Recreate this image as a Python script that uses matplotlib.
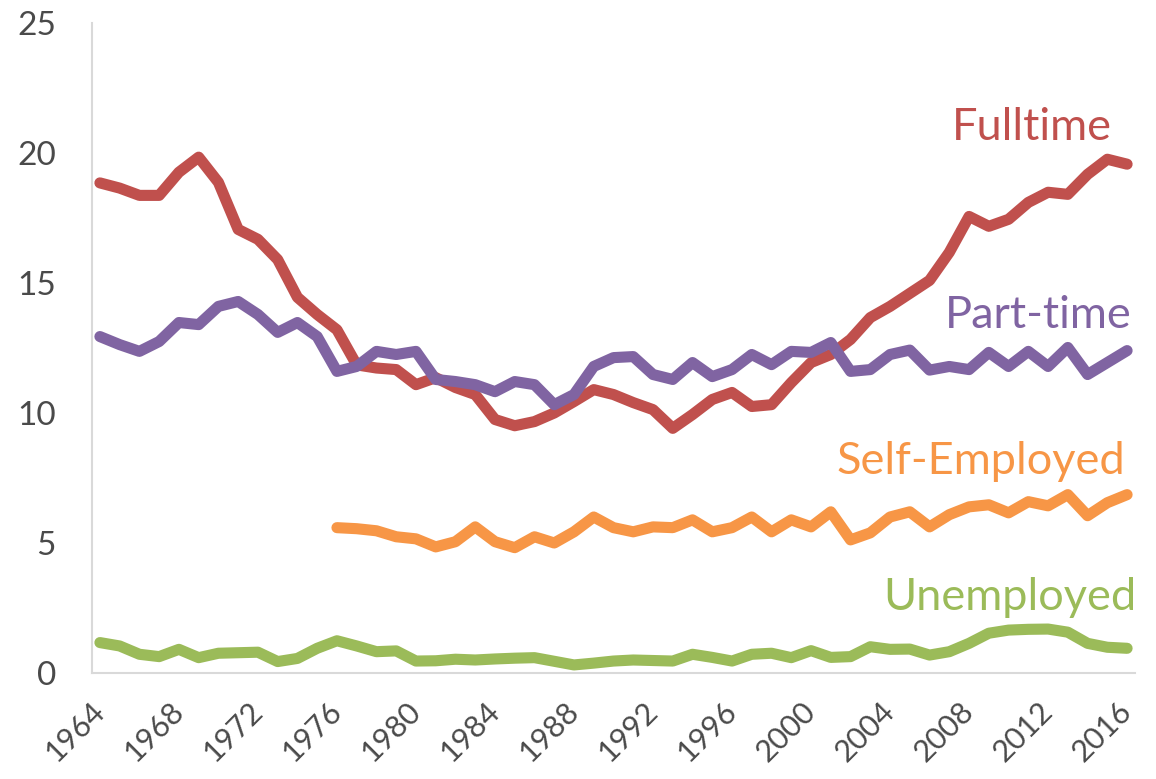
import numpy as np
import matplotlib
matplotlib.use("Agg")
import matplotlib.pyplot as plt
import matplotlib.transforms as mtransforms

plt.rcParams['font.family'] = ['Lato', 'DejaVu Sans']

years = list(range(1964, 2017))
se_years = list(range(1976, 2017))

fulltime = [18.85, 18.65, 18.37, 18.37, 19.26, 19.84, 18.87, 17.06, 16.68, 15.90,
            14.45, 13.79, 13.20, 11.85, 11.73, 11.67, 11.09, 11.36, 10.98, 10.71,
            9.75, 9.51, 9.67, 10.00, 10.44, 10.90, 10.71, 10.40, 10.13, 9.41,
            9.94, 10.52, 10.79, 10.25, 10.32, 11.17, 11.94, 12.25, 12.83, 13.67,
            14.10, 14.60, 15.10, 16.18, 17.56, 17.18, 17.45, 18.10, 18.49, 18.41,
            19.18, 19.76, 19.57]

parttime = [12.94, 12.63, 12.37, 12.75, 13.48, 13.40, 14.10, 14.29, 13.79, 13.10,
            13.48, 12.94, 11.60, 11.79, 12.37, 12.25, 12.37, 11.29, 11.21, 11.09,
            10.82, 11.21, 11.09, 10.32, 10.71, 11.79, 12.13, 12.17, 11.48, 11.29,
            11.94, 11.40, 11.67, 12.25, 11.86, 12.37, 12.33, 12.71, 11.60, 11.67,
            12.25, 12.42, 11.65, 11.79, 11.67, 12.33, 11.79, 12.37, 11.79, 12.52,
            11.48, 11.94, 12.40]

selfemployed = [5.59, 5.55, 5.47, 5.24, 5.16, 4.85, 5.05, 5.62, 5.05, 4.82,
                5.24, 5.00, 5.43, 6.00, 5.59, 5.43, 5.62, 5.59, 5.89, 5.43,
                5.59, 6.00, 5.43, 5.89, 5.62, 6.20, 5.12, 5.39, 6.00, 6.20,
                5.62, 6.09, 6.39, 6.47, 6.16, 6.59, 6.43, 6.86, 6.05, 6.55,
                6.86]

unemployed = [1.17, 1.04, 0.72, 0.63, 0.91, 0.59, 0.76, 0.78, 0.80, 0.44,
              0.56, 0.95, 1.24, 1.04, 0.82, 0.85, 0.46, 0.47, 0.53, 0.50,
              0.54, 0.57, 0.59, 0.45, 0.31, 0.38, 0.46, 0.50, 0.48, 0.46,
              0.72, 0.60, 0.46, 0.72, 0.76, 0.59, 0.86, 0.60, 0.63, 1.01,
              0.91, 0.92, 0.69, 0.82, 1.14, 1.53, 1.65, 1.68, 1.69, 1.57,
              1.14, 0.99, 0.95]

xticks = list(range(1964, 2017, 4))
yticks = [0, 5, 10, 15, 20, 25]

series = [
    ("Fulltime", years, fulltime, "#C0504D"),
    ("Part-time", years, parttime, "#8064A2"),
    ("Self-Employed", se_years, selfemployed, "#F79646"),
    ("Unemployed", years, unemployed, "#9BBB59"),
]
label_pos = {
    "Fulltime": (1112, 128),
    "Part-time": (1132, 315),
    "Self-Employed": (1125, 462),
    "Unemployed": (1136, 597),
}

W, H = 1156, 779
fig = plt.figure(figsize=(W / 100, H / 100), dpi=100)
ax = fig.add_axes([92 / W, (H - 673) / H, (1135 - 92) / W, (673 - 23) / H])

for name, xs, ys, col in series:
    ax.plot(xs, ys, color=col, lw=8, solid_capstyle='round', solid_joinstyle='round')

for name, xs, ys, col in series:
    px, py = label_pos[name]
    fig.text(px / W, 1 - py / H, name, color=col, fontsize=32.5,
             ha='right', va='center')

ax.set_xlim(1963.6, 2016.4)
ax.set_ylim(0, 25)
ax.set_yticks(yticks)
ax.set_xticks(xticks)
ax.set_xticklabels([str(x) for x in xticks], rotation=45, ha='right',
                   rotation_mode='anchor', fontsize=22, color='#4a4a4a')
ax.set_yticklabels([str(y) for y in yticks], fontsize=24, color='#4a4a4a')
ax.tick_params(axis='both', length=0)
ax.tick_params(axis='x', pad=12)
ax.tick_params(axis='y', pad=26)
offset = mtransforms.ScaledTranslation(-10 / 100, -7 / 100, fig.dpi_scale_trans)
for lbl in ax.get_xticklabels():
    lbl.set_transform(lbl.get_transform() + offset)
for s in ['top', 'right']:
    ax.spines[s].set_visible(False)
for s in ['left', 'bottom']:
    ax.spines[s].set_color('#D9D9D9')
    ax.spines[s].set_linewidth(1.5)

fig.savefig("out.png", dpi=100)
